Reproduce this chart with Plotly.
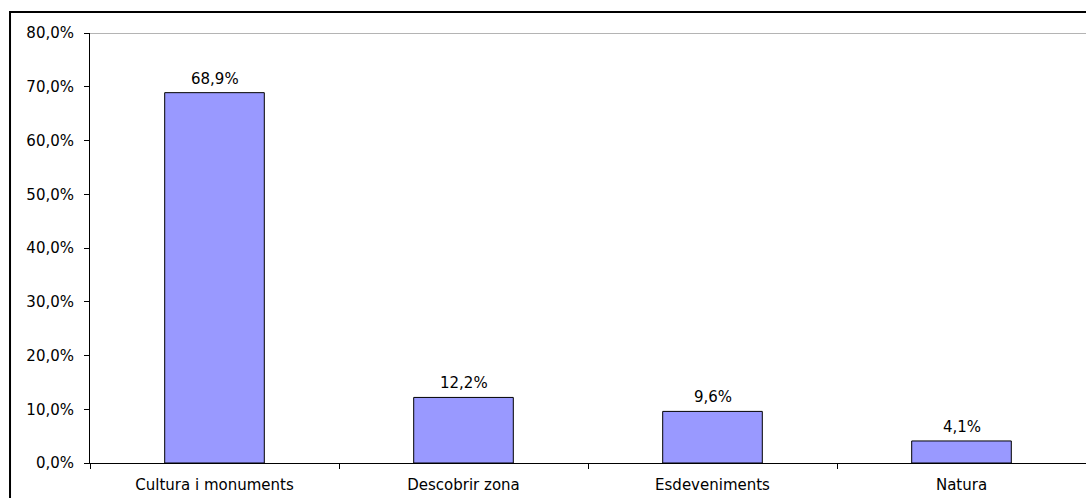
import plotly.graph_objects as go

# Motius de la visita (percentatge)
categories = ["Cultura i monuments", "Descobrir zona", "Esdeveniments", "Natura"]
values = [68.9, 12.2, 9.6, 4.1]
y_ticks = [0, 10, 20, 30, 40, 50, 60, 70, 80]

FONT = "DejaVu Sans"
FS = 15

fig = go.Figure()
fig.add_trace(go.Bar(
    x=categories,
    y=values,
    width=0.4,
    marker=dict(color="#9999FF", line=dict(color="#000000", width=1)),
    hoverinfo="skip",
))

# Value labels above each bar
for c, v in zip(categories, values):
    fig.add_annotation(
        x=c, y=v, text=f"{v:.1f}%".replace(".", ","),
        showarrow=False, yanchor="bottom", yshift=3,
        font=dict(family=FONT, size=FS, color="#000000"),
    )

# Plot-area top edge and outer chart border
fig.add_shape(type="line", xref="paper", yref="y", x0=0, x1=1.05, y0=80, y1=80,
              line=dict(color="#b4b4b4", width=2), layer="below")
fig.add_shape(type="rect", xref="paper", yref="paper",
              x0=-0.0803, x1=1.05, y0=-0.2, y1=1.0488,
              line=dict(color="#000000", width=2), fillcolor="rgba(0,0,0,0)")

fig.update_layout(
    width=1086, height=498,
    margin=dict(l=90, r=0, t=33, b=35),
    paper_bgcolor="#ffffff", plot_bgcolor="#ffffff",
    separators=",.",
    showlegend=False,
    font=dict(family=FONT, size=FS, color="#000000"),
)
fig.update_xaxes(
    type="category", range=[-0.5, 3.5],
    showline=True, linecolor="#000000", linewidth=1,
    ticks="outside", tickson="boundaries", ticklen=5, tickcolor="#000000",
    showgrid=False, zeroline=False,
    ticklabelstandoff=8,
    tickfont=dict(family=FONT, size=FS, color="#000000"),
)
fig.update_yaxes(
    range=[0, 80], tickvals=y_ticks,
    ticktext=[f"{t:.1f}%".replace(".", ",") for t in y_ticks],
    showline=True, linecolor="#000000", linewidth=1,
    ticks="outside", ticklen=5, tickcolor="#000000",
    showgrid=False, zeroline=False,
    ticklabelstandoff=7,
    tickfont=dict(family=FONT, size=FS, color="#000000"),
)

fig.write_html("out.html")
